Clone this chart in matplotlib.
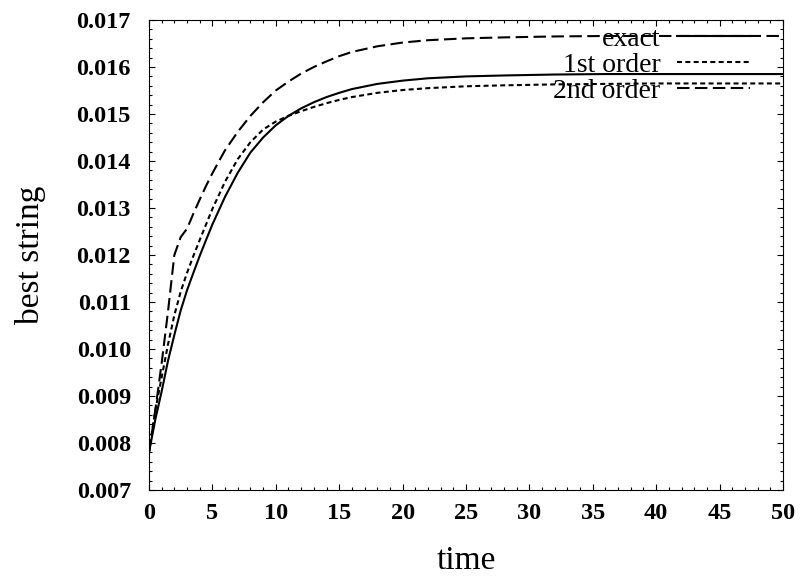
import matplotlib
matplotlib.use('Agg')
import matplotlib.pyplot as plt
from matplotlib.ticker import MultipleLocator, FormatStrFormatter

plt.rcParams['font.family'] = ['Liberation Serif', 'DejaVu Serif']

# values
t = [0, 0.5, 1, 1.5, 2, 2.5, 3, 3.5, 4, 4.5, 5, 6, 7, 8, 9, 10, 11, 12, 13, 14,
     15, 16, 18, 20, 22, 25, 28, 32, 36, 40, 45, 50]
exact = [0.0078, 0.0085, 0.0091, 0.00975, 0.0103, 0.01082, 0.01125, 0.01162,
         0.01198, 0.01232, 0.01265, 0.01324, 0.01375, 0.01418, 0.01450, 0.01476,
         0.01496, 0.01512, 0.01525, 0.01536, 0.01545, 0.01553, 0.01564, 0.01571,
         0.01576, 0.01580, 0.01582, 0.01584, 0.01585, 0.01585, 0.01585, 0.01585]
first = [0.0078, 0.0087, 0.0094, 0.0101, 0.01072, 0.01122, 0.01162, 0.01198,
         0.01232, 0.01265, 0.01298, 0.01356, 0.01404, 0.01440, 0.01467, 0.01484,
         0.01496, 0.01506, 0.01515, 0.01523, 0.01530, 0.01536, 0.01545, 0.01551,
         0.01555, 0.01559, 0.01561, 0.01563, 0.01564, 0.01565, 0.01565, 0.01565]
second = [0.0078, 0.0087, 0.0097, 0.0108, 0.0120, 0.01238, 0.01256, 0.01288,
          0.01318, 0.01347, 0.01374, 0.01423, 0.01462, 0.01496, 0.01525, 0.01550,
          0.01569, 0.01586, 0.01600, 0.01612, 0.01623, 0.01632, 0.01644, 0.01652,
          0.01657, 0.01661, 0.01663, 0.01665, 0.01666, 0.01666, 0.01666, 0.01666]

fig = plt.figure(figsize=(8.01, 5.78), dpi=100)
ax = fig.add_axes([0.186, 0.1522, 0.7915, 0.8132])

ax.plot(t, exact, '-', color='black', lw=1.5, label='exact')
ax.plot(t, first, color='black', lw=1.5, dashes=(2.4, 1.6), label='1st order')
ax.plot(t, second, color='black', lw=1.5, dashes=(6, 2.6), label='2nd order')

ax.set_xlim(0, 50)
ax.set_ylim(0.007, 0.017)
ax.xaxis.set_major_locator(MultipleLocator(5))
ax.xaxis.set_minor_locator(MultipleLocator(1))
ax.yaxis.set_major_locator(MultipleLocator(0.001))
ax.yaxis.set_minor_locator(MultipleLocator(0.0002))
ax.yaxis.set_major_formatter(FormatStrFormatter('%.3f'))

ax.tick_params(which='both', direction='in', top=True, right=True, width=0.8)
ax.tick_params(which='major', length=4.5)
ax.tick_params(which='minor', length=2.2)
ax.tick_params(axis='x', pad=9)
ax.tick_params(axis='y', pad=13)
for lab in ax.get_xticklabels() + ax.get_yticklabels():
    lab.set_fontsize(17.5)
    lab.set_fontweight('bold')
for s in ax.spines.values():
    s.set_linewidth(0.8)

ax.set_xlabel('time', fontsize=24)
ax.set_ylabel('best string', fontsize=24)
ax.xaxis.set_label_coords(0.5, -0.117)
ax.yaxis.set_label_coords(-0.162, 0.5)

ax.legend(loc='upper right', bbox_to_anchor=(0.948, 0.987), frameon=False,
          markerfirst=False, fontsize=20, handlelength=2.63, handletextpad=0.6,
          labelspacing=0.03, borderpad=0, borderaxespad=0)

fig.savefig('out.png', dpi=100)
